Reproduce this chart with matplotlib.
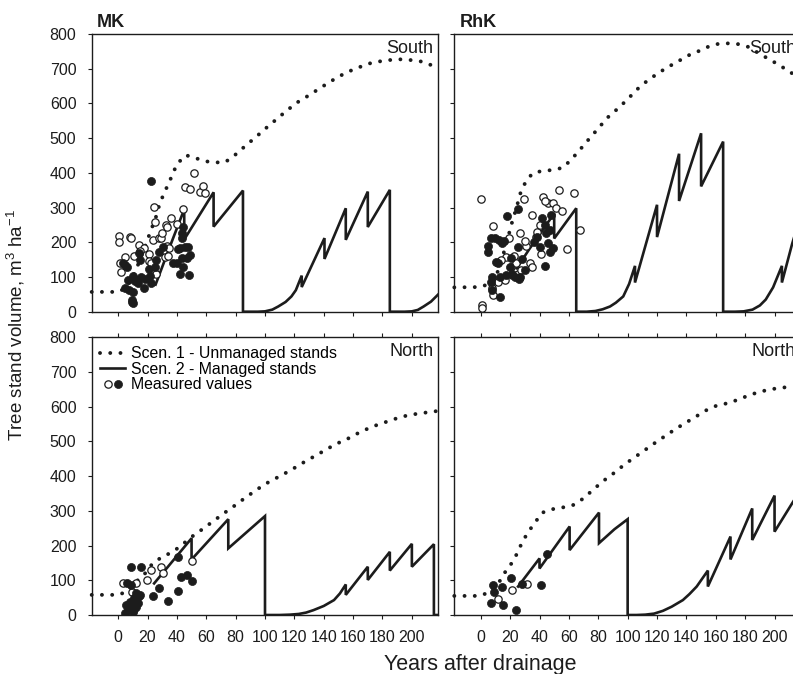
import matplotlib
matplotlib.use("Agg")
import matplotlib.pyplot as plt
from matplotlib.lines import Line2D
from matplotlib.legend_handler import HandlerTuple

plt.rcParams["font.family"] = ["Liberation Sans", "DejaVu Sans"]
plt.rcParams["mathtext.fontset"] = "custom"
plt.rcParams["mathtext.rm"] = "Liberation Sans"
plt.rcParams["mathtext.it"] = "Liberation Sans:italic"
plt.rcParams["mathtext.bf"] = "Liberation Sans:bold"
plt.rcParams["mathtext.default"] = "regular"

# ---------------------------------------------------------------------------
# Scenario 1: unmanaged stands (years after drainage, volume m3/ha)
mk_south_unm_years = [-18, 0, 5, 10, 15, 21, 26, 28, 31, 34, 37, 40, 46, 53, 60, 67,
                      73, 80, 87, 94, 101, 108, 115, 122, 129, 136, 143, 150, 157,
                      164, 171, 178, 185, 192, 199, 206, 211, 218]
mk_south_unm_vol = [57, 57, 68, 100, 150, 219, 276, 307, 339, 366, 395, 425, 451, 442,
                    433, 430, 431, 453, 479, 504, 530, 555, 580, 603, 621, 640, 659,
                    677, 692, 704, 715, 721, 725, 727, 725, 721, 715, 699]

rhk_south_unm_years = [-18, -1, 3, 6, 9, 12, 15, 18, 21, 23, 25, 27, 30, 35, 42, 49, 56,
                       62, 68, 74, 80, 86, 93, 100, 106, 113, 120, 127, 134, 140, 147,
                       154, 161, 168, 175, 182, 189, 196, 203, 210, 218]
rhk_south_unm_vol = [70, 71, 76, 77, 90, 120, 160, 205, 253, 281, 310, 341, 369, 398,
                     406, 408, 415, 440, 469, 499, 528, 558, 584, 612, 639, 664, 685,
                     704, 720, 736, 748, 762, 771, 773, 771, 763, 745, 728, 711, 692, 670]

mk_north_unm_years = [-18, 0, 4.5, 10, 14, 18, 23, 30, 37, 44, 51, 58, 65, 72, 79, 86,
                      93, 100, 107, 114, 121, 128, 134, 141, 148, 156, 162, 169, 176,
                      183, 190, 197, 204, 211, 218]
mk_north_unm_vol = [58, 58, 65, 85, 103, 118, 146, 168, 181, 204, 228, 249, 271, 293,
                    314, 336, 357, 377, 393, 409, 426, 444, 458, 475, 492, 507, 521,
                    535, 547, 557, 567, 575, 580, 584, 588]

rhk_north_unm_years = [-18, -1, 5, 12, 16, 21, 25, 28, 32, 37, 42, 49, 56, 63, 70, 77,
                       84, 91, 98, 105, 112, 119, 126, 133, 140, 147, 154, 161, 168,
                       175, 182, 189, 196, 203, 210, 218]
rhk_north_unm_vol = [55, 55, 64, 91, 120, 149, 179, 208, 237, 267, 295, 305, 310, 317,
                     336, 363, 388, 410, 434, 455, 476, 497, 517, 537, 555, 573, 591,
                     604, 610, 620, 632, 642, 649, 654, 657, 660]

# Scenario 2: managed stands (thinnings and clear-cuts give vertical drops)
mk_south_man_years = [25.5, 35, 45, 45, 55, 65, 65, 75, 85, 85, 95, 100, 105, 109, 114,
                      118, 121, 125, 125, 140.5, 140.5, 155, 155, 170, 170, 185, 185,
                      195, 200, 204, 208, 213, 218]
mk_south_man_vol = [78, 185, 295, 208, 276, 344, 245, 297, 349, 0, 0, 1, 6, 15, 28,
                    44, 62, 104, 71, 212, 152, 298, 207, 346, 244, 351, 0,
                    0, 1, 5, 15, 29, 50]

rhk_south_man_years = [24.5, 33, 50, 50, 65, 65, 72, 78, 83, 88, 92, 97, 101, 105, 105,
                       120, 120, 135, 135, 150, 150, 165, 165, 173, 179, 185, 190, 194,
                       199, 205, 205, 212, 218]
rhk_south_man_vol = [125, 180, 283, 211, 298, 0, 0, 2, 7, 15, 26, 44, 80, 132, 84,
                     308, 215, 455, 319, 514, 361, 490, 0, 0, 1, 6, 18, 35,
                     70, 132, 84, 196, 280]

mk_north_man_years = [24.5, 50, 50, 75, 75, 100, 100, 110, 117, 123, 128, 133, 140, 147,
                      151, 155, 155, 170, 170, 185, 185, 200, 200, 215, 215, 218]
mk_north_man_vol = [91, 221, 160, 276, 192, 285, 0, 0, 1, 3, 7, 14, 26, 43,
                    62, 88, 58, 139, 101, 182, 128, 205, 139, 204, 0, 0]

rhk_north_man_years = [25.4, 40, 40, 60.5, 60.5, 80.5, 80.5, 91, 100, 100, 106, 112, 118,
                       124, 130, 137.6, 142, 147, 154.6, 154.6, 170, 170, 184.8, 184.8,
                       200, 200, 212, 218]
rhk_north_man_vol = [82, 163, 134, 255, 187, 295, 207, 247, 276, 0, 0, 1, 4,
                     12, 24, 43, 60, 82, 128, 82, 226, 160, 307, 216, 344, 240, 322, 362]

# Measured values: (years after drainage, volume)
mk_south_open = [(0.7, 218), (0.7, 200), (8.2, 214), (8.8, 212), (1.6, 139), (1.8, 115),
                 (4.5, 159), (10.5, 160), (13.9, 191), (17.7, 184), (15.2, 176),
                 (20.9, 165), (20.9, 145), (22.7, 139), (23.9, 207), (24.5, 301),
                 (25.2, 257), (26.1, 109), (27.7, 212), (29.5, 213), (30.0, 228),
                 (32.5, 249), (33.4, 244), (35.7, 270), (31.8, 158), (33.9, 161),
                 (33.0, 188), (34.5, 183), (39.8, 253), (43.9, 297), (45.7, 359),
                 (48.9, 354), (51.8, 399), (55.7, 344), (58.0, 362), (59.0, 341)]
mk_south_filled = [(22.7, 377), (4.5, 134), (6.1, 130), (3.4, 140), (4.5, 67), (7.3, 62),
                   (9.8, 56), (9.1, 29), (10.2, 24), (9.5, 35), (6.8, 91), (9.8, 103),
                   (12.5, 91), (14.3, 168), (15.0, 150), (15.9, 101), (17.5, 67),
                   (22.7, 84), (22.0, 103), (21.1, 122), (25.0, 130), (25.7, 149),
                   (28.0, 173), (30.5, 185), (37.5, 139), (39.8, 139), (42.0, 183),
                   (43.2, 226), (43.9, 245), (43.2, 154), (43.9, 130), (42.0, 110),
                   (47.7, 187), (48.9, 163), (48.2, 106), (43.2, 211), (45.5, 187),
                   (46.6, 154), (40.5, 180), (11.5, 88), (13.5, 82), (18.5, 95)]

rhk_south_open = [(0, 324), (0.9, 19), (0.9, 10), (8.4, 248), (7.9, 67), (8.4, 48),
                  (11.8, 86), (16.3, 91), (17.4, 159), (19.3, 211), (20.8, 130),
                  (21.5, 106), (25.4, 110), (26.5, 226), (27.2, 120), (29.2, 324),
                  (31.0, 189), (33.3, 139), (35.1, 130), (35.1, 279), (37.8, 216),
                  (41.2, 166), (42.4, 329), (45.8, 312), (49.2, 314), (51.4, 298),
                  (53.2, 351), (55.3, 290), (58.9, 180), (63.2, 343), (67.3, 235),
                  (14.0, 150), (22.5, 160), (24.0, 140), (30.0, 205), (38.0, 230),
                  (40.0, 250), (44.0, 320)]
rhk_south_filled = [(5, 189), (5, 171), (6.8, 211), (9.5, 211), (12.2, 207), (14.7, 197),
                    (7.2, 86), (7.5, 100), (10.6, 144), (11.8, 139), (12.9, 43), (8, 62),
                    (18.1, 276), (20.8, 154), (21.5, 110), (25.4, 295), (25.4, 187),
                    (19.7, 130), (27, 101), (43.5, 250), (44.6, 226), (45.8, 197),
                    (46.9, 173), (49.2, 183), (43.5, 133), (40, 187), (46.9, 235),
                    (16, 205), (13, 100), (17, 105), (23, 100), (26, 95), (30, 120),
                    (36, 200), (38, 215), (42, 270), (48, 280), (28, 152)]

mk_north_open = [(3, 93), (9.5, 65), (12.5, 93), (19.8, 101), (22.7, 130), (28.9, 137),
                 (30.5, 120), (50, 157)]
mk_north_filled = [(8.6, 139), (15.5, 139), (5.7, 91), (8.5, 86), (5.2, 29), (4.5, 5),
                   (6.8, 14), (8, 38), (9.8, 29), (11, 18), (12.5, 22), (13.2, 34),
                   (14.3, 55), (11, 50), (23.4, 55), (28, 79), (34.1, 40), (40.9, 168),
                   (40.9, 69), (42.7, 109), (46.6, 115), (50, 98), (7.5, 20), (10, 8),
                   (12.5, 62), (14.8, 58)]

rhk_north_open = [(11.8, 45), (21.3, 73), (31.2, 88)]
rhk_north_filled = [(8.4, 87), (9.2, 66), (7.3, 34), (14.4, 80), (15.4, 30), (20.4, 107),
                    (24.3, 14), (41.0, 85), (45.1, 177), (28.0, 88)]

panels = [
    ("MK", "South", mk_south_unm_years, mk_south_unm_vol, mk_south_man_years,
     mk_south_man_vol, mk_south_open, mk_south_filled),
    ("RhK", "South", rhk_south_unm_years, rhk_south_unm_vol, rhk_south_man_years,
     rhk_south_man_vol, rhk_south_open, rhk_south_filled),
    (None, "North", mk_north_unm_years, mk_north_unm_vol, mk_north_man_years,
     mk_north_man_vol, mk_north_open, mk_north_filled),
    (None, "North", rhk_north_unm_years, rhk_north_unm_vol, rhk_north_man_years,
     rhk_north_man_vol, rhk_north_open, rhk_north_filled),
]

INK = "#1c1c1c"
DOT_STYLE = dict(color=INK, lw=2.8, linestyle=(0, (0.01, 2.62)),
                 dash_capstyle="round")
LINE_STYLE = dict(color=INK, lw=1.9, solid_joinstyle="miter")
OPEN_STYLE = dict(marker="o", ls="none", ms=5.3, mfc="white", mec=INK, mew=0.9)
FILLED_STYLE = dict(marker="o", ls="none", ms=5.8, mfc=INK, mec=INK, mew=0.5)

W, H = 793, 674
fig = plt.figure(figsize=(W / 100, H / 100), dpi=100)


def add_axes_px(left, top, right, bottom):
    return fig.add_axes([left / W, 1 - bottom / H, (right - left) / W, (bottom - top) / H])


boxes = [
    (91.7, 34.0, 438.3, 311.7),
    (454.3, 34.0, 801.0, 311.7),
    (91.7, 337.3, 438.3, 615.0),
    (454.3, 337.3, 801.0, 615.0),
]

for i, (box, panel) in enumerate(zip(boxes, panels)):
    title, region, uy, uv, my, mv, op, fi = panel
    ax = add_axes_px(*box)
    ax.plot(uy, uv, zorder=2, clip_on=False, **DOT_STYLE)
    ax.plot(my, mv, zorder=2.5, **LINE_STYLE)
    ax.plot([p[0] for p in op], [p[1] for p in op], zorder=3, **OPEN_STYLE)
    ax.plot([p[0] for p in fi], [p[1] for p in fi], zorder=3.5, **FILLED_STYLE)

    ax.set_xlim(-18, 218)
    ax.set_ylim(0, 800)
    ax.set_xticks(range(0, 201, 20))
    ax.set_yticks(range(0, 801, 100))
    for s in ax.spines.values():
        s.set_linewidth(1.0)
        s.set_color(INK)
    ax.tick_params(direction="out", length=3.0, width=0.8, color=INK,
                   labelsize=11.5, labelcolor=INK)
    ax.tick_params(axis="y", pad=8)
    ax.tick_params(axis="x", pad=7.5)
    top_row = i < 2
    left_col = i % 2 == 0
    ax.tick_params(axis="x", labelbottom=not top_row, top=not top_row, labeltop=False)
    ax.tick_params(axis="y", labelleft=left_col)

    if title:
        ax.text(5 / 346.6, 1 + 7 / 277.7, title, transform=ax.transAxes,
                fontsize=13, fontweight="bold", color=INK, va="baseline", ha="left")
    ax.text(1 - 5 / 346.6, 1 - 6 / 277.7, region, transform=ax.transAxes,
            fontsize=13, color=INK, va="top", ha="right", zorder=1)

    if i == 2:
        h_dot = Line2D([], [], **DOT_STYLE)
        h_line = Line2D([], [], **LINE_STYLE)
        h_open = Line2D([], [], **OPEN_STYLE)
        h_fill = Line2D([], [], **FILLED_STYLE)
        ax.legend([h_dot, h_line, (h_open, h_fill)],
                  ["Scen. 1 - Unmanaged stands", "Scen. 2 - Managed stands",
                   "Measured values"],
                  handler_map={tuple: HandlerTuple(ndivide=None, pad=-0.3)},
                  loc="upper left", bbox_to_anchor=(8.3 / 346.6, 0.968),
                  frameon=False, fontsize=11.4, handlelength=1.6,
                  handletextpad=0.35, labelspacing=0.04, borderpad=0,
                  borderaxespad=0)

fig.text(16 / W, 1 - 325.5 / H, r"Tree stand volume, m$^{3}$ ha$^{-1}$",
         rotation=90, ha="center", va="center", fontsize=13.5, color=INK)
fig.text(480 / W, 1 - 670 / H, "Years after drainage", ha="center",
         va="baseline", fontsize=15.5, color=INK)

fig.savefig("out.png", dpi=100)
